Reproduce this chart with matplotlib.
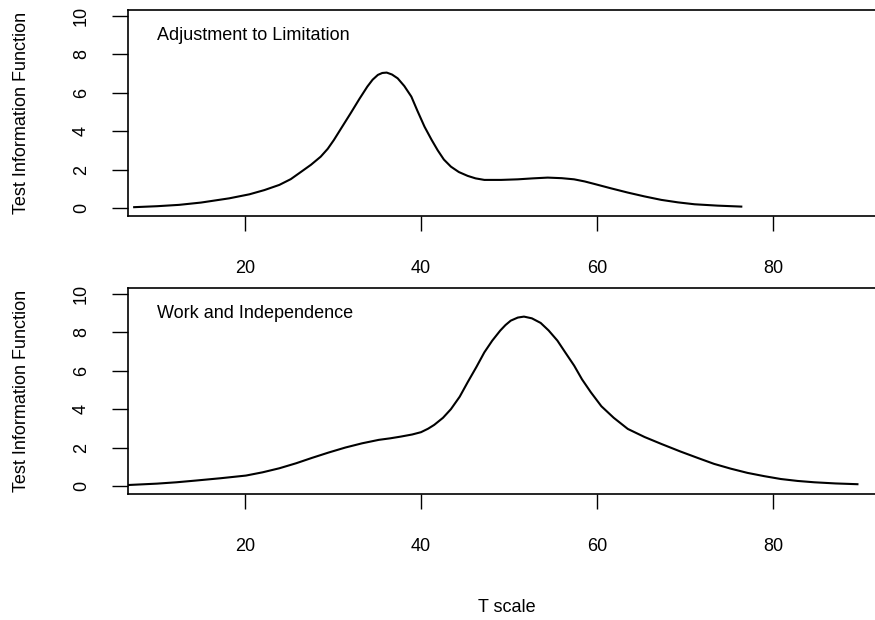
import matplotlib
matplotlib.use("Agg")
from matplotlib import pyplot as plt

plt.rcParams['font.family'] = ['Liberation Sans', 'DejaVu Sans']

# values
t_adj = [7.4, 10.0, 12.5, 15.0, 18.2, 20.5, 22.2, 23.9, 25.2, 26.4, 27.5, 28.6,
         29.4, 30.1, 31.0, 32.0, 33.0, 33.9, 34.5, 35.1, 35.6, 36.1, 36.7,
         37.35, 38.1, 38.9, 39.6, 40.4, 41.2, 41.9, 42.6, 43.4, 44.3, 45.3,
         46.2, 47.2, 49.1, 51.0, 52.7, 54.4, 56.0, 57.4, 58.6, 59.7, 61.6,
         63.5, 65.4, 67.3, 69.2, 71.1, 73.7, 76.4]
tif_adj = [0.04, 0.09, 0.16, 0.28, 0.5, 0.71, 0.93, 1.2, 1.5, 1.89, 2.25, 2.67,
           3.08, 3.54, 4.2, 4.93, 5.68, 6.32, 6.68, 6.93, 7.03, 7.05, 6.95,
           6.75, 6.35, 5.8, 5.05, 4.23, 3.55, 3.0, 2.52, 2.15, 1.87, 1.67,
           1.54, 1.46, 1.46, 1.49, 1.54, 1.58, 1.55, 1.49, 1.38, 1.25, 1.02,
           0.8, 0.6, 0.42, 0.29, 0.19, 0.12, 0.07]

t_work = [6.8, 10.0, 12.2, 14.4, 17.2, 20.1, 22.0, 23.9, 25.8, 27.6, 29.5, 31.4,
          33.3, 35.2, 36.5, 37.7, 39.0, 40.0, 40.8, 41.5, 42.5, 43.4, 44.4,
          45.3, 46.3, 47.2, 48.1, 49.0, 49.6, 50.2, 51.0, 51.7, 52.6, 53.6,
          54.5, 55.5, 56.4, 57.4, 58.3, 59.3, 60.5, 61.9, 63.5, 65.4, 67.3,
          69.5, 71.5, 73.3, 75.2, 77.1, 79.0, 80.9, 82.8, 84.7, 87.1, 89.6]
tif_work = [0.05, 0.12, 0.19, 0.28, 0.4, 0.54, 0.71, 0.92, 1.18, 1.46, 1.74, 2.0,
            2.22, 2.4, 2.48, 2.57, 2.68, 2.8, 2.98, 3.18, 3.55, 4.0, 4.65,
            5.4, 6.2, 6.96, 7.57, 8.09, 8.38, 8.61, 8.77, 8.82, 8.73, 8.49,
            8.1, 7.57, 6.95, 6.27, 5.55, 4.88, 4.15, 3.55, 2.97, 2.55, 2.19,
            1.79, 1.45, 1.15, 0.9, 0.68, 0.51, 0.36, 0.26, 0.19, 0.13, 0.09]

x_ticks = [20, 40, 60, 80]
y_ticks = [0, 2, 4, 6, 8, 10]
panels = [("Adjustment to Limitation", t_adj, tif_adj),
          ("Work and Independence", t_work, tif_work)]

W, H = 875, 620
fig = plt.figure(figsize=(W / 100, H / 100), dpi=100)

# axes boxes in pixels (left, top, right, bottom); right edge runs off the canvas
boxes = [(128, 10, 890, 216), (128, 288, 890, 494)]

for (name, tx, ty), (l, t, r, b) in zip(panels, boxes):
    ax = fig.add_axes([l / W, 1 - b / H, (r - l) / W, (b - t) / H])
    ax.plot(tx, ty, color='black', lw=1.5)
    ax.set_xlim(6.7, 93.3)
    ax.set_ylim(-0.42, 10.31)
    ax.set_xticks(x_ticks)
    ax.set_yticks(y_ticks)
    ax.tick_params(axis='x', direction='out', length=11, width=1.0, pad=21, labelsize=13)
    ax.tick_params(axis='y', direction='out', length=11.5, width=1.0, pad=16, labelsize=13,
                   labelrotation=90)
    for lab in ax.get_yticklabels():
        lab.set_va('center')
    for sp in ax.spines.values():
        sp.set_linewidth(1.2)
    ax.text(10, 9, name, ha='left', va='center', fontsize=13)
    fig.text(22 / W, 1 - ((t + b) / 2) / H, "Test Information Function",
             rotation=90, ha='center', va='center', fontsize=13)

fig.text(507 / W, 1 - 608 / H, "T scale", ha='center', va='center', fontsize=13)

fig.savefig("out.png", dpi=100)
